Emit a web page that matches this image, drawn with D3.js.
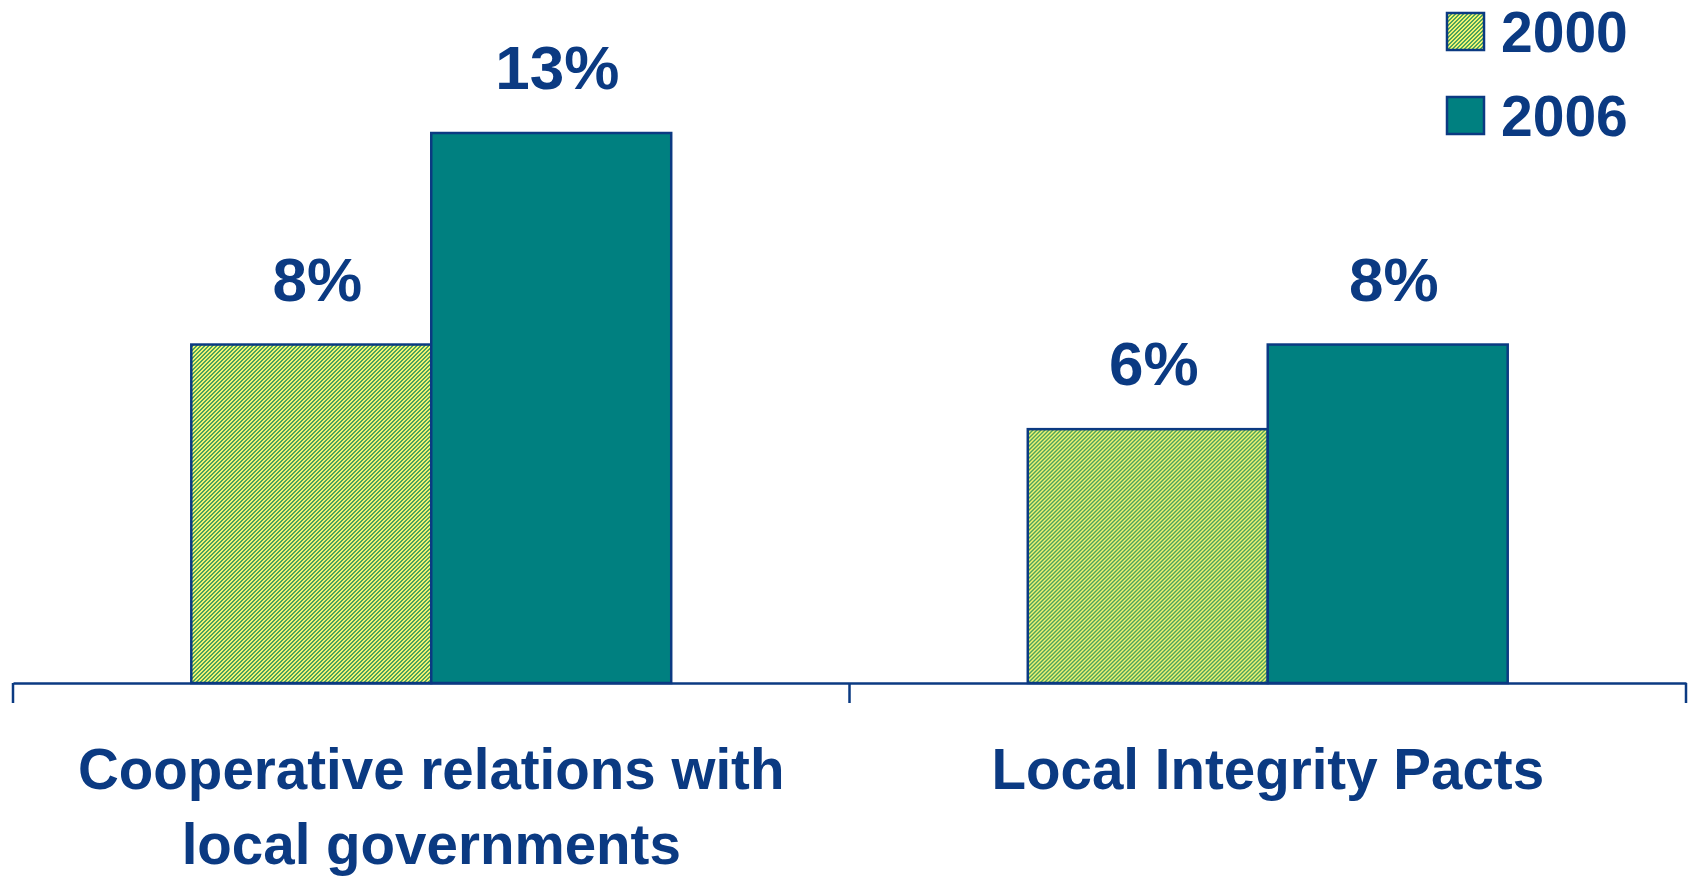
<!DOCTYPE html>
<html>
<head>
<meta charset="utf-8">
<script src="https://cdn.jsdelivr.net/npm/d3@7"></script>
<style>
  html, body { margin: 0; padding: 0; background: #ffffff; }
  svg { display: block; }
  text { font-family: "Liberation Sans", Arial, Helvetica, sans-serif; font-weight: bold; }
</style>
</head>
<body>
<svg id="chart" width="1694" height="877"></svg>
<script>
// Share of municipalities using each anti-corruption instrument
const categories = [
  ["Cooperative relations with", "local governments"],
  ["Local Integrity Pacts"]
];
const categoryKeys = ["coop", "pacts"];
const seriesNames = ["2000", "2006"];
const values2000 = [8, 6];
const values2006 = [13, 8];
const valueLabels2000 = ["8%", "6%"];
const valueLabels2006 = ["13%", "8%"];

const navy = "#0b3a82";
const teal = "#008080";

const svg = d3.select("#chart");

// Diagonal yellow/green hatch for the 2000 series
const defs = svg.append("defs");
const pat = defs.append("pattern")
  .attr("id", "hatch")
  .attr("patternUnits", "userSpaceOnUse")
  .attr("width", 4).attr("height", 4);
pat.append("rect").attr("width", 4).attr("height", 4).attr("fill", "#f2f372");
pat.append("path").attr("d", "M0,0 L2,0 L0,2 Z").attr("fill", "#4ea45c").attr("shape-rendering", "crispEdges");
pat.append("path").attr("d", "M4,0 L4,2 L2,4 L0,4 Z").attr("fill", "#4ea45c").attr("shape-rendering", "crispEdges");

const fills = { "2000": "url(#hatch)", "2006": teal };

const x0 = d3.scaleBand().domain(categoryKeys).range([13, 1686]).paddingInner(0).paddingOuter(0);
const x1 = d3.scaleBand().domain(seriesNames).range([0, x0.bandwidth()]).paddingInner(0).paddingOuter(0.743);
const y = d3.scaleLinear().domain([0, 13]).range([683, 133]);

const rows = categoryKeys.map((k, i) => ({
  key: k,
  bars: [
    { series: "2000", value: values2000[i], label: valueLabels2000[i] },
    { series: "2006", value: values2006[i], label: valueLabels2006[i] }
  ]
}));

const groups = svg.append("g").selectAll("g")
  .data(rows).join("g")
  .attr("transform", d => `translate(${x0(d.key)},0)`);

groups.selectAll("rect")
  .data(d => d.bars).join("rect")
  .attr("x", d => x1(d.series))
  .attr("y", d => y(d.value))
  .attr("width", x1.bandwidth())
  .attr("height", d => y(0) - y(d.value))
  .attr("fill", d => fills[d.series])
  .attr("stroke", navy)
  .attr("stroke-width", 2.5);

groups.selectAll("text.val")
  .data(d => d.bars).join("text")
  .attr("class", "val")
  .attr("x", d => x1(d.series) + x1.bandwidth() / 2 + 6)
  .attr("y", d => y(d.value) - 44)
  .attr("text-anchor", "middle")
  .attr("font-size", 62)
  .attr("fill", navy)
  .text(d => d.label);

// Category axis: baseline with boundary ticks
const axis = d3.axisBottom(x0).tickValues([]).tickSizeOuter(0);
const axisG = svg.append("g").attr("transform", `translate(0,${y(0)})`).call(axis);
axisG.select(".domain").attr("stroke", navy).attr("stroke-width", 2.5);
const edges = [x0.range()[0]].concat(categoryKeys.map(k => x0(k) + x0.bandwidth()));
axisG.selectAll("line.sep").data(edges).join("line")
  .attr("class", "sep")
  .attr("x1", d => d).attr("x2", d => d)
  .attr("y1", 0).attr("y2", 20)
  .attr("stroke", navy).attr("stroke-width", 2.5);

// Category labels (multi-line)
const catLabels = svg.append("g").selectAll("text")
  .data(categoryKeys).join("text")
  .attr("x", (k) => x0(k) + x0.bandwidth() / 2)
  .attr("y", 789)
  .attr("text-anchor", "middle")
  .attr("font-size", 56.5)
  .attr("fill", navy);
catLabels.each(function(k, i) {
  d3.select(this).selectAll("tspan")
    .data(categories[i]).join("tspan")
    .attr("x", x0(k) + x0.bandwidth() / 2)
    .attr("dy", (d, j) => j === 0 ? 0 : 75)
    .text(d => d);
});

// Legend
const legend = svg.append("g").selectAll("g")
  .data(seriesNames).join("g")
  .attr("transform", (d, i) => `translate(1447,${13 + i * 84})`);
legend.append("rect")
  .attr("width", 37).attr("height", 37)
  .attr("fill", d => fills[d])
  .attr("stroke", navy).attr("stroke-width", 2.5);
legend.append("text")
  .attr("x", 54).attr("y", 39)
  .attr("font-size", 57)
  .attr("fill", navy)
  .text(d => d);
</script>
</body>
</html>
